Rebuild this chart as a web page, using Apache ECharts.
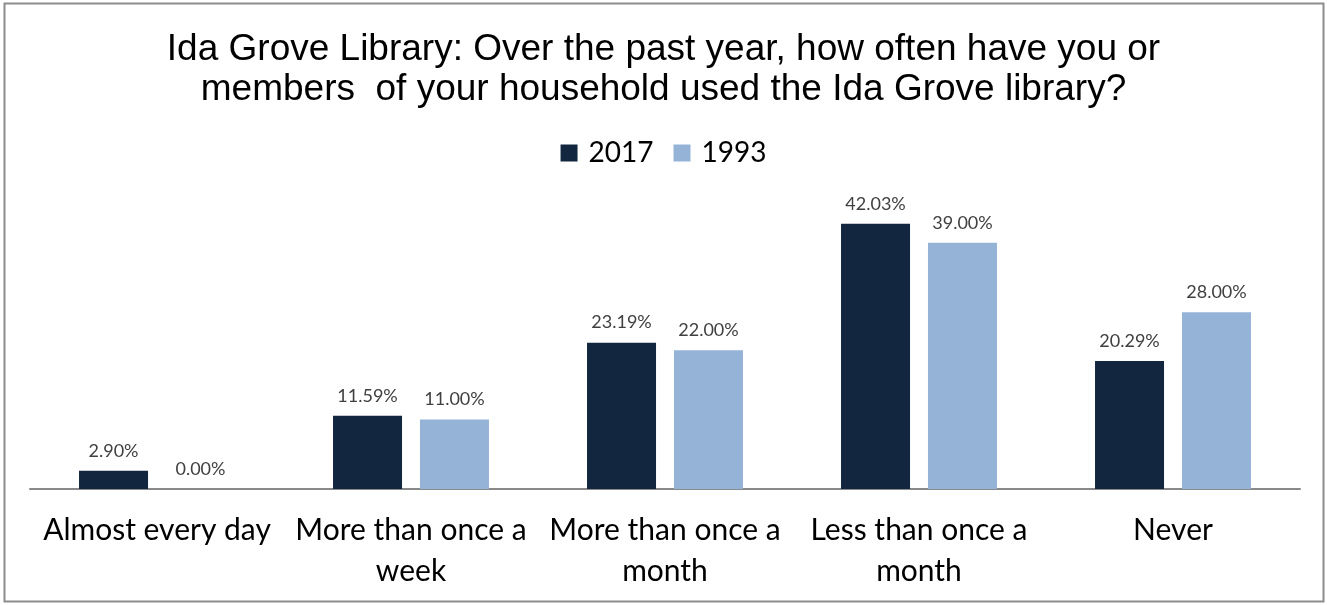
<!DOCTYPE html>
<html><head><meta charset="utf-8">
<script src="https://cdn.jsdelivr.net/npm/echarts@6/dist/echarts.min.js"></script>
<style>html,body{margin:0;padding:0;background:#fff}#c{width:1327px;height:605px}</style>
</head><body><div id="c"></div>
<script>
const categories = ['Almost every day', 'More than once a\nweek', 'More than once a\nmonth', 'Less than once a\nmonth', 'Never'];
const series2017 = [2.90, 11.59, 23.19, 42.03, 20.29];
const series1993 = [0.00, 11.00, 22.00, 39.00, 28.00];
const seriesNames = ['2017', '1993'];
const titleText = 'Ida Grove Library: Over the past year, how often have you or\nmembers  of your household used the Ida Grove library?';

const chart = echarts.init(document.getElementById('c'), null, {renderer: 'canvas'});
const lblFont = 'Lato, "Open Sans", sans-serif';
const dataLabel = {
  show: true, position: 'top', distance: 11,
  formatter: p => p.value.toFixed(2) + '%',
  color: '#404040', fontSize: 18, fontFamily: lblFont
};
chart.setOption({
  animation: false,
  backgroundColor: '#fff',
  graphic: [{type: 'rect', shape: {x: 4.5, y: 3.5, width: 1319, height: 598}, style: {fill: 'none', stroke: '#8c8c8c', lineWidth: 2}, silent: true}],
  title: {
    text: titleText, left: 'center', top: 25,
    textStyle: {fontFamily: '"Liberation Sans", Arial, sans-serif', fontSize: 37, fontWeight: 'normal', color: '#000', lineHeight: 40}
  },
  legend: {
    data: seriesNames, top: 134, left: 'center',
    itemWidth: 17, itemHeight: 17, itemGap: 20, icon: 'rect',
    textStyle: {fontFamily: lblFont, fontSize: 28, color: '#000', padding: [0, 0, 0, 6]}
  },
  grid: {left: 30, right: 27, top: 205, bottom: 116, containLabel: false},
  xAxis: {
    type: 'category', data: categories,
    axisLine: {lineStyle: {color: '#898989', width: 2}},
    axisTick: {show: false},
    axisLabel: {interval: 0, fontFamily: lblFont, fontSize: 30, color: '#000', lineHeight: 41, margin: 21}
  },
  yAxis: {type: 'value', min: 0, max: 45, show: false, splitLine: {show: false}},
  series: [
    {name: seriesNames[0], type: 'bar', data: series2017, barWidth: 69, barGap: '26%', itemStyle: {color: '#12263f'}, label: dataLabel},
    {name: seriesNames[1], type: 'bar', data: series1993, barWidth: 69, itemStyle: {color: '#95b3d7'}, label: dataLabel}
  ]
});
</script></body></html>
